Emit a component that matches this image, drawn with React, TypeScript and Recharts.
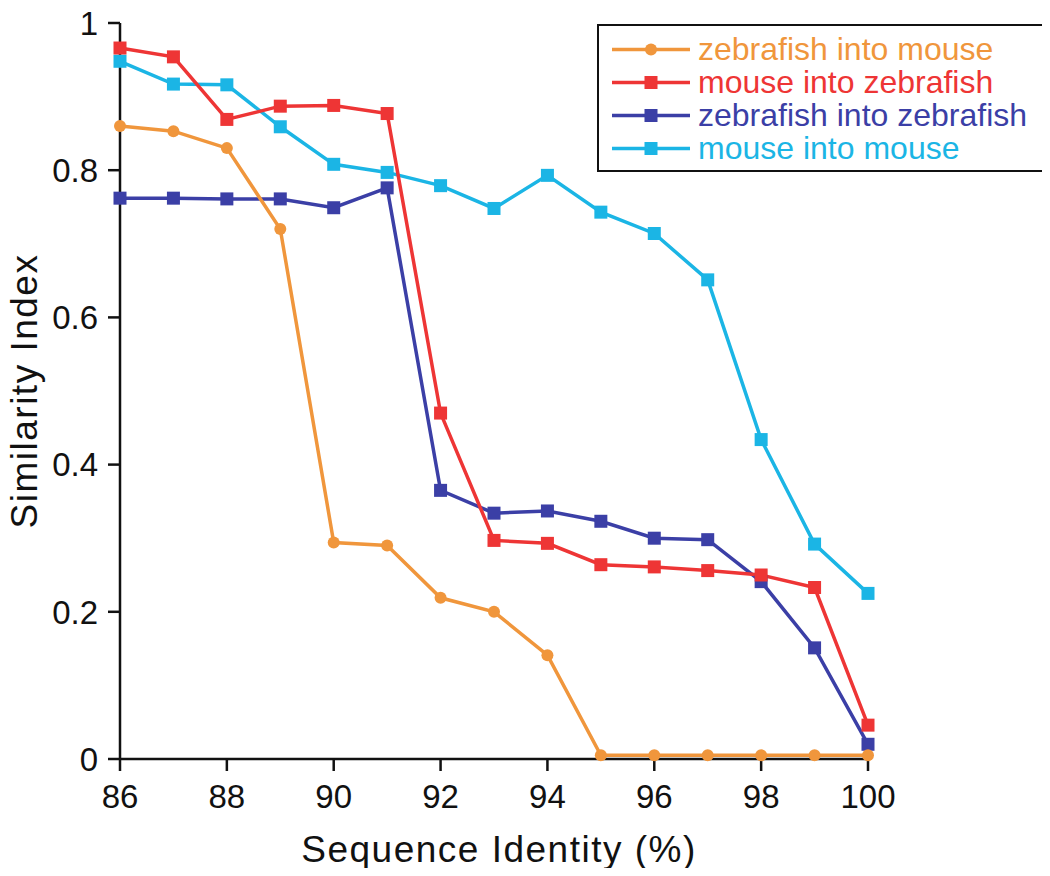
import { Label, Legend, Line, LineChart, XAxis, YAxis } from "recharts";

const FONT = "'Liberation Sans', Arial, Helvetica, sans-serif";
const INK = "#111";

// sequence identity (%) on x
const identity = [86, 87, 88, 89, 90, 91, 92, 93, 94, 95, 96, 97, 98, 99, 100];
const zebrafishIntoMouse = [0.86, 0.853, 0.83, 0.72, 0.294, 0.29, 0.219, 0.2, 0.141, 0.005, 0.005, 0.005, 0.005, 0.005, 0.005];
const mouseIntoZebrafish = [0.966, 0.954, 0.869, 0.887, 0.888, 0.877, 0.47, 0.297, 0.293, 0.264, 0.261, 0.256, 0.25, 0.233, 0.046];
const zebrafishIntoZebrafish = [0.762, 0.762, 0.761, 0.761, 0.749, 0.776, 0.365, 0.334, 0.337, 0.323, 0.3, 0.298, 0.241, 0.151, 0.02];
const mouseIntoMouse = [0.948, 0.917, 0.916, 0.859, 0.808, 0.797, 0.779, 0.748, 0.793, 0.743, 0.714, 0.651, 0.434, 0.292, 0.225];

const xTicks = [86, 88, 90, 92, 94, 96, 98, 100];
const yTicks = [0, 0.2, 0.4, 0.6, 0.8, 1];

const series = [
  { key: "zm", name: "zebrafish into mouse", color: "#F0963C", shape: "circle", values: zebrafishIntoMouse },
  { key: "mz", name: "mouse into zebrafish", color: "#EE3535", shape: "square", values: mouseIntoZebrafish },
  { key: "zz", name: "zebrafish into zebrafish", color: "#3B3FA6", shape: "square", values: zebrafishIntoZebrafish },
  { key: "mm", name: "mouse into mouse", color: "#1BB5E5", shape: "square", values: mouseIntoMouse },
];
// drawing order (last on top)
const drawOrder = ["zz", "mm", "mz", "zm"];

const data = identity.map((x, i) => {
  const row: Record<string, number> = { x };
  series.forEach((s) => (row[s.key] = s.values[i]));
  return row;
});

const squareDot = (color: string) => (p: any) =>
  <rect key={p.index} x={p.cx - 6.5} y={p.cy - 6.5} width={13} height={13} fill={color} />;

function LegendBox() {
  return (
    <div style={{ boxSizing: "border-box", width: 450, border: `2px solid ${INK}`, background: "#fff", padding: "7px 8px 5px 13px", fontFamily: FONT }}>
      {series.map((s) => (
        <div key={s.key} style={{ display: "flex", alignItems: "center", height: 33 }}>
          <svg width={78} height={33}>
            <line x1={0} x2={78} y1={16.5} y2={16.5} stroke={s.color} strokeWidth={3.5} />
            {s.shape === "circle"
              ? <circle cx={39} cy={16.5} r={6} fill={s.color} />
              : <rect x={32.5} y={10} width={13} height={13} fill={s.color} />}
          </svg>
          <span style={{ marginLeft: 8, fontSize: 32, lineHeight: "33px", color: s.color, whiteSpace: "nowrap" }}>{s.name}</span>
        </div>
      ))}
    </div>
  );
}

const yTitle = ({ viewBox }: any) => {
  const x = viewBox.x + 37;
  const y = viewBox.y + viewBox.height / 2;
  return (
    <text x={x} y={y} transform={`rotate(-90 ${x} ${y})`} textAnchor="middle" fill={INK}
      style={{ fontFamily: FONT, fontSize: 37, letterSpacing: 1.5 }}>Similarity Index</text>
  );
};

const xTitle = ({ viewBox }: any) => (
  <text x={viewBox.x + viewBox.width / 2 + 5} y={viewBox.y + 103} textAnchor="middle" fill={INK}
    style={{ fontFamily: FONT, fontSize: 37, letterSpacing: 1.5 }}>Sequence Identity (%)</text>
);

const tick = { fill: INK, fontSize: 33, fontFamily: FONT };
const axisLine = { stroke: INK, strokeWidth: 2.5 };

export default function App() {
  // cancel the body margin so the chart fills the whole 1050x876 page
  return (
    <div style={{ margin: -8, width: 1050, height: 876 }}>
      <LineChart width={1050} height={876} data={data} margin={{ top: 23, right: 182, left: 0, bottom: 0 }}>
        <XAxis dataKey="x" type="number" domain={[86, 100]} ticks={xTicks} height={117}
          tick={tick} tickSize={12} tickMargin={14} axisLine={axisLine} tickLine={axisLine}>
          <Label content={xTitle} />
        </XAxis>
        <YAxis type="number" domain={[0, 1]} ticks={yTicks} width={120}
          tick={tick} tickSize={12} tickMargin={10} axisLine={axisLine} tickLine={axisLine}>
          <Label content={yTitle} />
        </YAxis>
        <Legend layout="vertical" align="center" verticalAlign="middle" content={<LegendBox />}
          wrapperStyle={{ left: 597, top: 24, width: 450, height: "auto" }} />
        {drawOrder.map((k) => {
          const s = series.find((t) => t.key === k)!;
          return (
            <Line key={k} dataKey={k} name={s.name} type="linear" stroke={s.color} strokeWidth={3.5}
              dot={s.shape === "circle" ? { r: 6, fill: s.color, stroke: "none" } : squareDot(s.color)}
              activeDot={false} isAnimationActive={false} />
          );
        })}
      </LineChart>
    </div>
  );
}
